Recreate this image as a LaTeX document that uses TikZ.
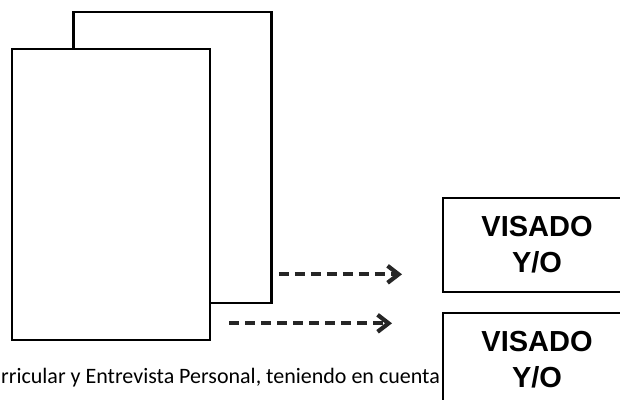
\documentclass[tikz,border=0pt]{standalone}
\usepackage{fontspec}
\setmainfont{Carlito}
\newfontfamily\boxfont{Liberation Sans}
\usetikzlibrary{arrows.meta}
\tikzstyle{sheet} = [draw=black, fill=white, line width=2.6pt,
    rectangle, minimum width=198, minimum height=291, inner sep=0]
\tikzstyle{visado} = [draw=black, fill=white, line width=2pt,
    rectangle, minimum width=188, minimum height=94, align=center,
    font=\boxfont\bfseries\fontsize{29}{36}\selectfont]
\tikzstyle{dasharrow} = [line width=4.2pt, dash pattern=on 10pt off 6pt,
    -{Straight Barb[length=11pt,width=17pt]}, black!85]

\begin{document}
\begin{tikzpicture}[x=1pt,y=-1pt]
    \clip (0,0) rectangle (620,399);
    \fill[white] (0,0) rectangle (620,399);
    % the two sheets
    \node [sheet] (back) at (172.5,157.5) {};
    \node [sheet] (front) at (111,194.5) {};
    % the two boxes on the right
    \node [visado] (box1) at (537,245) {VISADO\\Y/O};
    \node [visado] (box2) at (537,360) {VISADO\\Y/O};
    \node [anchor=base west, inner sep=0, font=\fontsize{22}{26}\selectfont]
        (caption) at (1,383) {rricular y Entrevista Personal, teniendo en cuenta};
    % arrows
    \coordinate (from1) at ([xshift=6pt,yshift=30pt]back.south east);
    \coordinate (from2) at ([xshift=18pt,yshift=18pt]front.south east);
    \draw [dasharrow, shorten >=40pt] (from1) -- (from1 -| box1.west);
    \draw [dasharrow, shorten >=50pt] (from2) -- (from2 -| box2.west);
\end{tikzpicture}
\end{document}
